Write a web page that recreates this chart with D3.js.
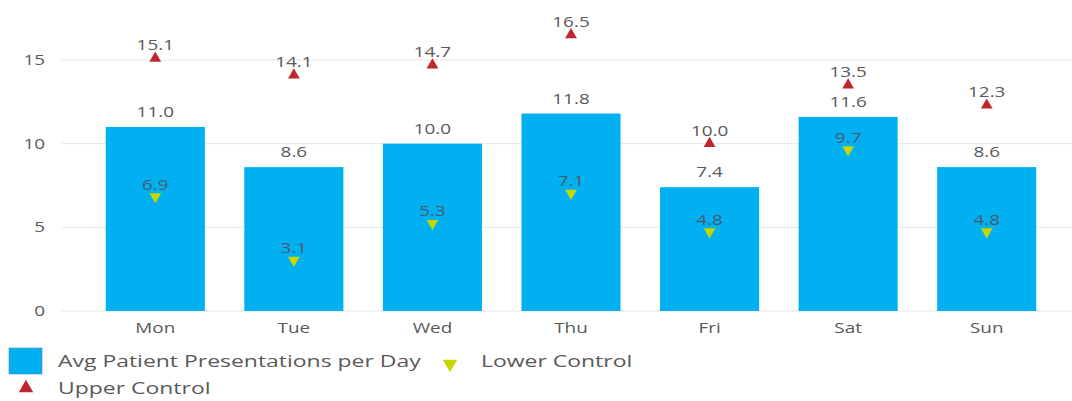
<!DOCTYPE html>
<html>
<head>
<meta charset="utf-8">
<script src="https://cdn.jsdelivr.net/npm/d3@7"></script>
<style>
  body { margin: 0; background: #fff; }
  text { font-family: "Open Sans", sans-serif; }
</style>
</head>
<body>
<svg id="chart" width="1072" height="401"></svg>
<script>
// chart data
var days = ["Mon", "Tue", "Wed", "Thu", "Fri", "Sat", "Sun"],
    avgPresentations = [11.0, 8.6, 10.0, 11.8, 7.4, 11.6, 8.6],
    lowerControl = [6.9, 3.1, 5.3, 7.1, 4.8, 9.7, 4.8],
    upperControl = [15.1, 14.1, 14.7, 16.5, 10.0, 13.5, 12.3],
    yTicks = [0, 5, 10, 15];

var barColor = "#00b0f0",
    upColor = "#c0262d",
    lowColor = "#c8d600",
    textColor = "#595959",
    // the source picture is stretched sideways, so text is too
    stretch = 1.35;

var svg = d3.select("#chart");

var x = d3.scaleBand()
  .domain(days)
  .range([86, 1056])
  .paddingInner(0.285)
  .paddingOuter(0.1425);

var y = d3.scaleLinear()
  .domain([0, 15])
  .range([311, 60]);

function label(g, px, py, str, anchor, size, color) {
  return g.append("text")
    .attr("transform", "translate(" + px + "," + py + ") scale(" + stretch + ",1)")
    .attr("text-anchor", anchor)
    .style("font-size", size + "px")
    .attr("fill", color || textColor)
    .text(str);
}

// gridlines
svg.append("g")
  .selectAll("line")
  .data(yTicks)
  .enter().append("line")
    .attr("x1", 62)
    .attr("x2", 1072)
    .attr("y1", function(d) { return y(d); })
    .attr("y2", function(d) { return y(d); })
    .attr("stroke", "#e6e6e6")
    .attr("stroke-width", 1);

// axis labels, positioned by the scales
var axes = svg.append("g");
y.ticks(3).forEach(function(t) {
  label(axes, 45, y(t) + 5, t, "end", 14);
});
x.domain().forEach(function(d) {
  label(axes, x(d) + x.bandwidth() / 2, 333, d, "middle", 14);
});

var rows = days.map(function(d, i) {
  return {day: d, avg: avgPresentations[i], low: lowerControl[i], up: upperControl[i]};
});
var cx = function(d) { return x(d.day) + x.bandwidth() / 2; };

// bars
svg.append("g")
  .selectAll("rect")
  .data(rows)
  .enter().append("rect")
    .attr("x", function(d) { return x(d.day); })
    .attr("y", function(d) { return y(d.avg); })
    .attr("width", x.bandwidth())
    .attr("height", function(d) { return y(0) - y(d.avg); })
    .attr("fill", barColor);

var labels = svg.append("g");
rows.forEach(function(d) {
  label(labels, cx(d), y(d.avg) - 10, d.avg.toFixed(1), "middle", 14);
});

var tri = d3.symbol().type(d3.symbolTriangle).size(60);

// upper control markers
svg.append("g")
  .selectAll("path")
  .data(rows)
  .enter().append("path")
    .attr("d", tri)
    .attr("transform", function(d) { return "translate(" + cx(d) + "," + y(d.up) + ")"; })
    .attr("fill", upColor);
rows.forEach(function(d) {
  label(labels, cx(d), y(d.up) - 8, d.up.toFixed(1), "middle", 14);
});

// lower control markers
svg.append("g")
  .selectAll("path")
  .data(rows)
  .enter().append("path")
    .attr("d", tri)
    .attr("transform", function(d) { return "translate(" + cx(d) + "," + (y(d.low) + 1) + ") rotate(180)"; })
    .attr("fill", lowColor);
rows.forEach(function(d) {
  label(labels, cx(d), y(d.low) - 6, d.low.toFixed(1), "middle", 14, "#4a5a6a");
});

// legend
var legend = svg.append("g");
legend.append("rect")
  .attr("x", 9).attr("y", 348).attr("width", 33).attr("height", 26)
  .attr("fill", barColor).attr("stroke", "#4a8ab8").attr("stroke-width", 0.6);
label(legend, 58, 367, "Avg Patient Presentations per Day", "start", 17);
legend.append("path")
  .attr("d", d3.symbol().type(d3.symbolTriangle).size(90))
  .attr("transform", "translate(450,364) rotate(180)")
  .attr("fill", lowColor);
label(legend, 481, 367, "Lower Control", "start", 17);
legend.append("path")
  .attr("d", d3.symbol().type(d3.symbolTriangle).size(90))
  .attr("transform", "translate(26,388)")
  .attr("fill", upColor);
label(legend, 58, 394, "Upper Control", "start", 17);
</script>
</body>
</html>
